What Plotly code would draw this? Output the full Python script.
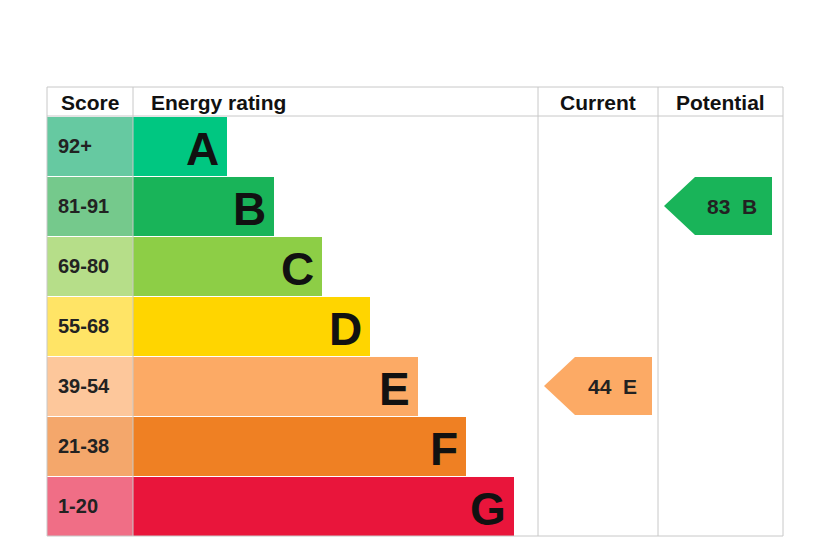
import plotly.graph_objects as go

bands = ["A", "B", "C", "D", "E", "F", "G"]
scores = ["92+", "81-91", "69-80", "55-68", "39-54", "21-38", "1-20"]
band_colors = ["#00c781", "#19b459", "#8dce46", "#ffd500", "#fcaa65", "#ef8023", "#e9153b"]
score_colors = ["#66c9a1", "#75c98c", "#b6de89", "#ffe466", "#fdc79b", "#f4a76b", "#f06e86"]
bar_lengths = [94, 141, 189, 237, 285, 333, 381]
current = (44, "E")
potential = (83, "B")

top, row_h = 116, 60
centers = [top + row_h * i + row_h / 2 for i in range(len(bands))]

fig = go.Figure()
fig.add_trace(go.Bar(y=centers, x=[86] * 7, base=47, orientation="h", width=row_h - 1,
                     marker=dict(color=score_colors, line_width=0), hoverinfo="skip"))
fig.add_trace(go.Bar(y=centers, x=bar_lengths, base=133, orientation="h", width=row_h - 1,
                     marker=dict(color=band_colors, line_width=0), hoverinfo="skip"))

for c, s, b, L in zip(centers, scores, bands, bar_lengths):
    fig.add_annotation(x=56, y=c, text="<b>%s</b>" % s, xanchor="left", showarrow=False,
                       font=dict(size=20, color="#222", family="Liberation Sans"))
    fig.add_annotation(x=133 + L - 6, y=c + 3, text="<b>%s</b>" % b, xanchor="right", showarrow=False,
                       font=dict(size=46, color="#111", family="Liberation Sans"))

def arrow(val, band, x0, x1):
    i = bands.index(band)
    c = centers[i]
    h = 29
    path = f"M {x0} {c} L {x0+31} {c-h} L {x1} {c-h} L {x1} {c+h} L {x0+31} {c+h} Z"
    fig.add_shape(type="path", path=path, fillcolor=band_colors[i], line_width=0, layer="below")
    fig.add_annotation(x=(x0 + x1) / 2 + 14, y=c, text="<b>%d  %s</b>" % (val, band), showarrow=False,
                       font=dict(size=21, color="#222", family="Liberation Sans"))

arrow(current[0], current[1], 544, 652)
arrow(potential[0], potential[1], 664, 772)

grid = "#c8c8c8"
for x in [47, 133, 538, 658, 783]:
    fig.add_shape(type="line", x0=x, x1=x, y0=87, y1=536, line=dict(color=grid, width=1))
for y in [87, 116, 536]:
    fig.add_shape(type="line", x0=47, x1=783, y0=y, y1=y, line=dict(color=grid, width=1))

for x, t, anc in [(90, "Score", "center"), (149, "Energy rating", "left"),
                  (598, "Current", "center"), (720, "Potential", "center")]:
    fig.add_annotation(x=x, y=102, text="<b>%s</b>" % t, xanchor=anc, showarrow=False,
                       font=dict(size=21, color="#111", family="Liberation Sans"))

fig.add_shape(type="circle", x0=73, x1=76, y0=2, y1=5, fillcolor="#d33", line_width=0)

# page body has an 8px margin, shift the ranges to compensate
fig.update_layout(width=826, height=548, margin=dict(l=0, r=0, t=0, b=0),
                  plot_bgcolor="white", paper_bgcolor="white", showlegend=False,
                  barmode="overlay", bargap=0,
                  xaxis=dict(range=[8, 834], visible=False, fixedrange=True),
                  yaxis=dict(range=[556, 8], visible=False, fixedrange=True))
fig.write_html("out.html")
